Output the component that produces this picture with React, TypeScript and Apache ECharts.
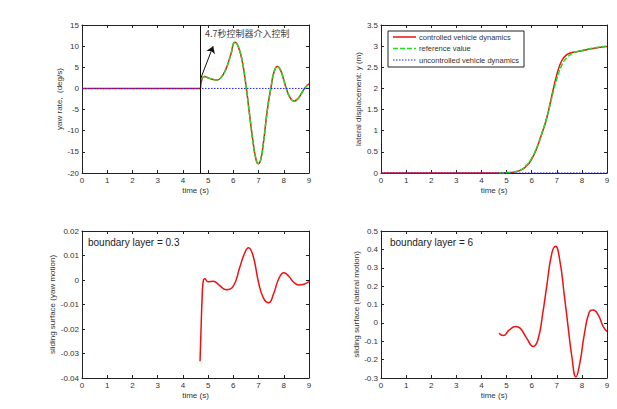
import React, { useEffect, useRef } from "react";
import * as echarts from "echarts";

const NAME_CTRL = "controlled vehicle dynamics";
const NAME_REF = "reference value";
const NAME_UNC = "uncontrolled vehicle dynamics";
const LEGEND_NAMES = [NAME_CTRL, NAME_REF, NAME_UNC];

const xTicks = { min: 0, max: 9, interval: 1 };

// Plot 1: yaw rate (deg/s)
const yawFlatT = [0, 4.7];
const yawFlat = [0, 0];
const yawCtrlT = [4.7, 4.76, 4.85, 5.0, 5.2, 5.35, 5.5, 5.7, 5.9, 6.06, 6.2, 6.35, 6.5, 6.65, 6.8, 6.9, 6.98, 7.08, 7.2, 7.35, 7.5, 7.62, 7.75, 7.88, 8.0, 8.1, 8.25, 8.4, 8.55, 8.7, 8.85, 9.0];
const yawCtrl = [0, 2.3, 2.8, 2.5, 2.1, 2.0, 2.5, 4.5, 8.0, 10.9, 9.8, 6.5, 0.8, -6.5, -13.5, -16.8, -17.8, -17.0, -12.5, -5.0, 0.5, 4.0, 5.2, 4.2, 2.0, 0.0, -2.2, -3.0, -2.5, -1.2, 0.2, 1.1];
const yawRefT = [4.7, 4.76, 4.85, 5.0, 5.2, 5.35, 5.5, 5.7, 5.9, 6.06, 6.2, 6.35, 6.5, 6.65, 6.8, 6.9, 6.98, 7.08, 7.2, 7.35, 7.5, 7.62, 7.75, 7.88, 8.0, 8.1, 8.25, 8.4, 8.55, 8.7, 8.85, 9.0];
const yawRef = [2.2, 2.5, 2.8, 2.5, 2.1, 2.0, 2.5, 4.5, 8.0, 10.9, 9.8, 6.5, 0.8, -6.5, -13.5, -16.8, -17.8, -17.0, -12.5, -5.0, 0.5, 4.0, 5.2, 4.2, 2.0, 0.0, -2.2, -3.0, -2.5, -1.2, 0.2, 1.1];
const uncT = [0, 9];
const uncV = [0, 0];

// Plot 2: lateral displacement (m)
const latFlatT = [0, 4.7];
const latFlat = [0, 0];
const latCtrlT = [4.7, 5.0, 5.5, 5.8, 6.0, 6.2, 6.4, 6.6, 6.8, 7.0, 7.2, 7.4, 7.6, 7.8, 8.0, 8.3, 8.6, 9.0];
const latCtrl = [0, 0.005, 0.05, 0.17, 0.33, 0.58, 0.92, 1.3, 1.82, 2.32, 2.66, 2.8, 2.85, 2.87, 2.89, 2.93, 2.96, 2.99];
const latRefT = [4.7, 5.0, 5.5, 5.8, 6.0, 6.2, 6.4, 6.6, 6.8, 7.0, 7.2, 7.4, 7.6, 7.8, 8.0, 8.3, 8.6, 9.0];
const latRef = [0, 0.01, 0.06, 0.19, 0.35, 0.6, 0.93, 1.3, 1.78, 2.22, 2.55, 2.73, 2.82, 2.87, 2.9, 2.94, 2.97, 3.0];

// Plot 3: sliding surface (yaw motion)
const sYawT = [4.68, 4.72, 4.76, 4.8, 4.87, 5.0, 5.2, 5.45, 5.72, 6.0, 6.25, 6.45, 6.6, 6.78, 7.0, 7.2, 7.4, 7.6, 7.8, 8.0, 8.2, 8.4, 8.6, 8.8, 9.0];
const sYaw = [-0.0332, -0.02, -0.008, -0.001, 0.0005, -0.0007, -0.0005, -0.0022, -0.004, -0.0025, 0.005, 0.011, 0.0132, 0.01, -0.001, -0.0075, -0.0093, -0.0055, 0.0005, 0.003, 0.0015, -0.001, -0.002, -0.0017, -0.0007];

// Plot 4: sliding surface (lateral motion)
const sLatT = [4.7, 4.87, 5.1, 5.35, 5.55, 5.8, 6.06, 6.25, 6.45, 6.6, 6.8, 6.95, 7.12, 7.3, 7.45, 7.6, 7.76, 7.92, 8.1, 8.3, 8.45, 8.65, 8.85, 9.0];
const sLat = [-0.056, -0.069, -0.04, -0.02, -0.03, -0.083, -0.128, -0.092, 0.06, 0.2, 0.377, 0.417, 0.34, 0.15, -0.02, -0.183, -0.294, -0.218, -0.06, 0.06, 0.07, 0.043, -0.02, -0.047];

const zip = (t: number[], v: number[]) => t.map((x, i) => [x, v[i]]);

const RED = "#ee1111";
const GREEN = "#22dd22";
const BLUE = "#1a1aff";
const FONT = "Liberation Sans";
const TXT = "#333";
const DASH = [5, 2];
const DOT = [1.5, 1.5];

export default function App() {
  const ref = useRef<HTMLDivElement>(null);
  useEffect(() => {
    const chart = echarts.init(ref.current!, null, { renderer: "svg" });
    const grids = [
      { left: 82, top: 25, width: 227, height: 148 },
      { left: 381, top: 25, width: 226, height: 148 },
      { left: 82, top: 231, width: 227, height: 147 },
      { left: 381, top: 231, width: 226, height: 147 },
    ];
    const yCfg = [
      { min: -20, max: 15, interval: 5, name: "yaw rate,  (deg/s)", gap: 16 },
      { min: 0, max: 3.5, interval: 0.5, name: "lateral displacement: y (m)", gap: 19 },
      { min: -0.04, max: 0.02, interval: 0.01, name: "sliding surface (yaw motion)", gap: 25 },
      { min: -0.3, max: 0.5, interval: 0.1, name: "sliding surface (lateral motion)", gap: 20 },
    ];
    const axLine = { show: true, onZero: false, lineStyle: { color: "#222", width: 1 } };
    const tick = { show: true, inside: true, length: 3, lineStyle: { color: "#222" } };
    const xAxis: any[] = [];
    const yAxis: any[] = [];
    grids.forEach((_, g) => {
      xAxis.push({
        type: "value", gridIndex: g, position: "bottom", ...xTicks,
        name: "time (s)", nameLocation: "middle", nameGap: 13,
        nameTextStyle: { fontFamily: FONT, fontSize: 8, color: TXT },
        axisLine: axLine, axisTick: tick, splitLine: { show: false },
        axisLabel: { fontFamily: FONT, fontSize: 8, color: TXT, margin: 3 },
      });
      xAxis.push({
        type: "value", gridIndex: g, position: "top", ...xTicks,
        axisLine: axLine, axisTick: tick, splitLine: { show: false }, axisLabel: { show: false },
      });
      const c = yCfg[g];
      yAxis.push({
        type: "value", gridIndex: g, position: "left", min: c.min, max: c.max, interval: c.interval,
        name: c.name, nameLocation: "middle", nameGap: c.gap, nameRotate: 90,
        nameTextStyle: { fontFamily: FONT, fontSize: 8, color: TXT },
        axisLine: axLine, axisTick: tick, splitLine: { show: false },
        axisLabel: { fontFamily: FONT, fontSize: 8, color: TXT, margin: 3 },
      });
      yAxis.push({
        type: "value", gridIndex: g, position: "right", min: c.min, max: c.max, interval: c.interval,
        axisLine: axLine, axisTick: tick, splitLine: { show: false }, axisLabel: { show: false },
      });
    });
    const line = (name: string, g: number, data: number[][], color: string, type: any, width = 1.5, extra: any = {}) => ({
      type: "line", name, xAxisIndex: g * 2, yAxisIndex: g * 2, data, symbol: "none",
      smooth: 0.5,
      lineStyle: { color, type, width }, itemStyle: { color }, ...extra,
    });
    const series: any[] = [
      line(NAME_CTRL, 0, zip(yawFlatT, yawFlat), RED, "solid", 1.5, { smooth: false }),
      line(NAME_CTRL, 0, zip(yawCtrlT, yawCtrl), RED, "solid", 1.5),
      line(NAME_REF, 0, zip(yawRefT, yawRef), GREEN, DASH, 1.5, {
        markLine: {
          silent: true, animation: false,
          label: { show: false },
          data: [
            [{ coord: [4.7, -20], symbol: "none" }, { coord: [4.7, 15], symbol: "none" }],
            [{ coord: [4.71, 2.4], symbol: "none" }, { coord: [5.2, 10], symbol: "arrow", symbolSize: 7 }],
          ],
          lineStyle: { color: "#111", type: "solid", width: 1 },
        },
        markPoint: {
          silent: true,
          data: [{
            coord: [4.88, 12.9], symbol: "circle", symbolSize: 0,
            label: {
              show: true, position: "right", distance: 0, formatter: "4.7秒控制器介入控制",
              fontFamily: "Noto Sans CJK SC", fontSize: 9, color: "#444",
            },
          }],
        },
      }),
      line(NAME_UNC, 0, zip(uncT, uncV), BLUE, DOT, 1, { smooth: false }),
      line(NAME_CTRL, 1, zip(latFlatT, latFlat), RED, "solid", 1.5, { smooth: false }),
      line(NAME_CTRL, 1, zip(latCtrlT, latCtrl), RED, "solid", 1.5),
      line(NAME_REF, 1, zip(latRefT, latRef), GREEN, DASH, 1.5),
      line(NAME_UNC, 1, zip(uncT, uncV), BLUE, DOT, 1, { smooth: false }),
      line("s1", 2, zip(sYawT, sYaw), RED, "solid", 1.5),
      line("s2", 3, zip(sLatT, sLat), RED, "solid", 1.5),
    ];
    const legendColors = [RED, GREEN, BLUE];
    const legendDash: any[] = [null, DASH, DOT];
    const legendRows = [37, 48.5, 60];
    const legendGraphics: any[] = [
      { type: "rect", shape: { x: 388, y: 31, width: 136, height: 36 }, style: { fill: "#fff", stroke: "#222", lineWidth: 1 }, z: 100 },
    ];
    LEGEND_NAMES.forEach((n, i) => {
      legendGraphics.push({
        type: "line", z: 101,
        shape: { x1: 393, y1: legendRows[i], x2: 416, y2: legendRows[i] },
        style: { stroke: legendColors[i], lineWidth: i === 2 ? 1 : 1.5, lineDash: legendDash[i] },
      });
      legendGraphics.push({
        type: "text", z: 101, x: 419, y: legendRows[i],
        style: { text: n, fontFamily: FONT, fontSize: 7.5, fill: TXT, verticalAlign: "middle" },
      });
    });
    chart.setOption({
      animation: false,
      backgroundColor: "#fff",
      grid: grids,
      xAxis, yAxis, series,
      graphic: [
        ...legendGraphics,
        { type: "text", left: 88, top: 237, style: { text: "boundary layer = 0.3", fontFamily: FONT, fontSize: 10, fill: "#222" } },
        { type: "text", left: 390, top: 237, style: { text: "boundary layer = 6", fontFamily: FONT, fontSize: 10, fill: "#222" } },
      ],
    });
    return () => chart.dispose();
  }, []);
  return <div ref={ref} style={{ position: "absolute", left: 0, top: 0, width: 617, height: 409 }} />;
}
